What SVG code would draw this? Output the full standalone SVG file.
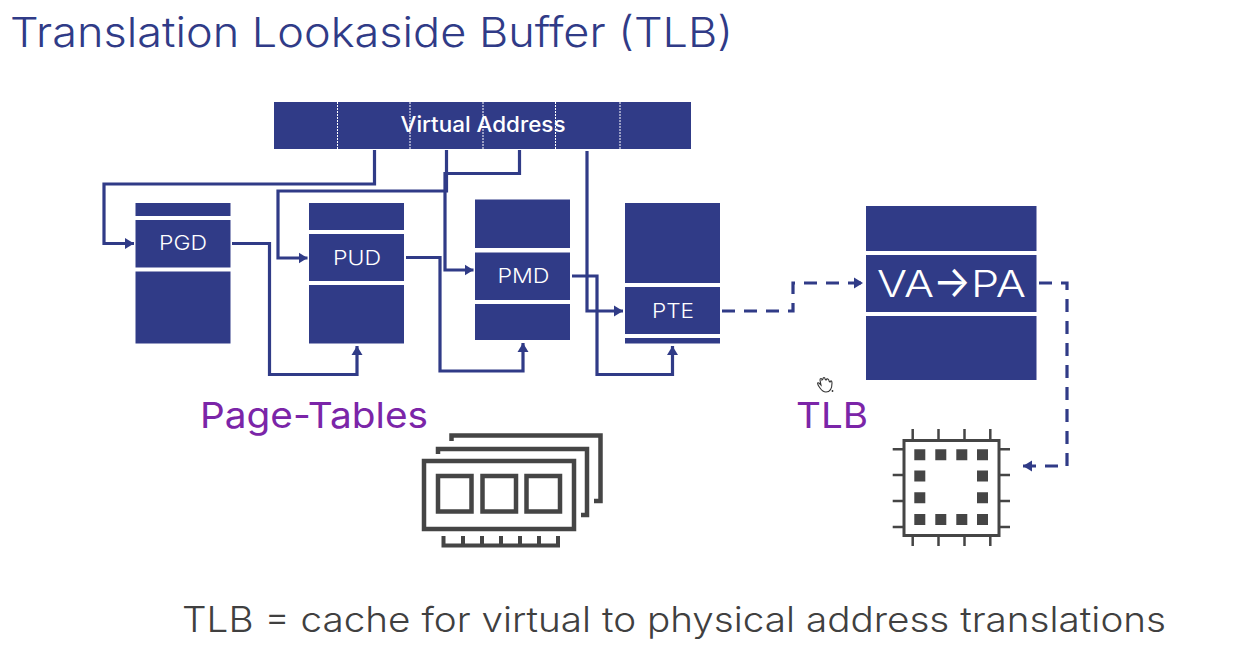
<svg xmlns="http://www.w3.org/2000/svg" width="1253" height="654" viewBox="0 0 1253 654">
<style>
text{font-family:"Inter","Open Sans","Liberation Sans",sans-serif}
.b{fill:#303b87}
.w{fill:#fff;text-anchor:middle;font-size:20px;font-weight:300}
.c{fill:none;stroke:#303b87;stroke-width:3.200;marker-end:url(#a)}
.d{fill:none;stroke:#303b87;stroke-width:3.200;stroke-dasharray:13 9;marker-end:url(#a)}
.dv{stroke:#fff;stroke-width:1;stroke-dasharray:2 1}
.g{fill:none;stroke:#454545}
.s{fill:#454545}
.p{fill:#7b25a8;font-size:36px;font-weight:400}
.v{fill:#fff;font-size:37px;font-weight:300}
</style>
<defs>
<marker id="a" markerUnits="userSpaceOnUse" markerWidth="10" markerHeight="12" refX="9" refY="6" orient="auto"><path d="M0 0.500L9 6L0 11.500z" fill="#303b87"/></marker>
</defs>
<rect width="1253" height="654" fill="#fff"/>
<text x="10" y="47" font-size="41" font-weight="300" fill="#303b87" textLength="723" lengthAdjust="spacingAndGlyphs">Translation Lookaside Buffer (TLB)</text>
<g id="virtual-address">
<rect class="b" x="274" y="102" width="417" height="47"/>
<path class="dv" d="M337.500 102V149M410 102V149M483 102V149M555.500 102V149M620 102V149"/>
<text x="483" y="132" fill="#fff" text-anchor="middle" font-size="21" font-weight="500" textLength="165" lengthAdjust="spacingAndGlyphs">Virtual Address</text>
</g>
<g id="pgd">
<rect class="b" x="135.500" y="203" width="95" height="13"/><rect class="b" x="135.500" y="220" width="95" height="47.500"/><rect class="b" x="135.500" y="271.500" width="95" height="72"/>
<text class="w" x="183" y="250" textLength="48" lengthAdjust="spacingAndGlyphs">PGD</text>
</g>
<g id="pud">
<rect class="b" x="309" y="203" width="95" height="27"/><rect class="b" x="309" y="234" width="95" height="47"/><rect class="b" x="309" y="285" width="95" height="58.500"/>
<text class="w" x="357" y="264.500" textLength="48" lengthAdjust="spacingAndGlyphs">PUD</text>
</g>
<g id="pmd">
<rect class="b" x="475" y="199.500" width="95" height="48.500"/><rect class="b" x="475" y="252.500" width="95" height="47.500"/><rect class="b" x="475" y="304" width="95" height="36"/>
<text class="w" x="523.500" y="283" textLength="52" lengthAdjust="spacingAndGlyphs">PMD</text>
</g>
<g id="pte">
<rect class="b" x="625" y="203" width="95" height="80"/><rect class="b" x="625" y="287" width="95" height="47"/><rect class="b" x="625" y="338" width="95" height="5.500"/>
<text class="w" x="673" y="318" textLength="42" lengthAdjust="spacingAndGlyphs">PTE</text>
</g>
<g id="tlb-table">
<rect class="b" x="866" y="206" width="170.500" height="45"/><rect class="b" x="866" y="255" width="170.500" height="57"/><rect class="b" x="866" y="316" width="170.500" height="64"/>
<text class="v" x="877" y="297" textLength="57" lengthAdjust="spacingAndGlyphs">VA</text>
<text class="v" x="933" y="297" textLength="38" lengthAdjust="spacingAndGlyphs" style="font-size:44px;font-weight:400">→</text>
<text class="v" x="971" y="297" textLength="55" lengthAdjust="spacingAndGlyphs">PA</text>
</g>
<g id="connectors">
<path class="c" d="M374.500 150V184H104V243.500H134"/>
<path class="c" d="M232 243.500H269.500V374.500H357V346"/>
<path class="c" d="M446.500 150V191H278V258H307.500"/>
<path class="c" d="M519.500 150V173.500H445V270H473.500"/>
<path class="c" d="M406 257.500H440V371H523V343"/>
<path class="c" d="M572 276H597V374.500H672.500V346"/>
<path class="c" d="M587 151V311H623"/>
<path class="d" d="M722 311H793V283H863"/>
<path class="d" d="M1039 283H1067V466H1023"/>
</g>
<text class="p" x="200" y="428" textLength="228" lengthAdjust="spacingAndGlyphs">Page-Tables</text>
<text class="p" x="796" y="428" textLength="72" lengthAdjust="spacingAndGlyphs">TLB</text>
<g id="memory">
<rect class="g" x="424" y="461" width="150" height="68" stroke-width="4.500"/>
<rect class="g" x="438" y="476" width="33.500" height="35.500" stroke-width="4.500"/>
<rect class="g" x="482.500" y="476" width="33.500" height="35.500" stroke-width="4.500"/>
<rect class="g" x="526.500" y="476" width="33.500" height="35.500" stroke-width="4.500"/>
<path class="g" stroke-width="4.500" d="M438 454V449H587V515H581M451.500 441V435.500H600.500V501H594"/>
<path class="g" stroke-width="4" d="M443.500 536V545.500H558V536M463 536V545M482 536V545M501 536V545M520 536V545M539 536V545"/>
</g>
<g id="chip">
<rect class="g" x="904" y="440.500" width="95" height="95" stroke-width="3"/>
<path class="g" stroke-width="2.500" d="M912.700 429V440M938.500 429V440M964.500 429V440M990.300 429V440M912.700 536V546M938.500 536V546M964.500 536V546M990.300 536V546M892.700 449.300H904M892.700 475H904M892.700 501H904M892.700 527H904M999 449.300H1010M999 475H1010M999 501H1010M999 527H1010"/>
<path class="s" d="M914.300 449.300h11v11h-11zM935.300 449.300h11v11h-11zM956.300 449.300h11v11h-11zM977 449.300h11v11h-11zM914.300 470.500h11v11h-11zM977 470.500h11v11h-11zM914.300 492.300h11v11h-11zM977 492.300h11v11h-11zM914.300 514h11v11h-11zM935.300 514h11v11h-11zM956.300 514h11v11h-11zM977 514h11v11h-11z"/>
</g>
<path id="cursor" fill="#fff" stroke="#333" stroke-width="1.100" d="M820 388C817 384 817 382 819 383L821 385L820 380C820 378 822 378 822 380L823 379C823 377 825 377 825 379L826 380C827 378 829 379 829 381L830 382C831 380 832 381 832 383C832 388 830 392 826 392C823 392 822 391 820 388Z"/>
<circle cx="832.500" cy="391" r="0.900" fill="#333"/>
<text x="182" y="632" font-size="35" font-weight="300" fill="#404040" textLength="984" lengthAdjust="spacingAndGlyphs">TLB = cache for virtual to physical address translations</text>
</svg>
